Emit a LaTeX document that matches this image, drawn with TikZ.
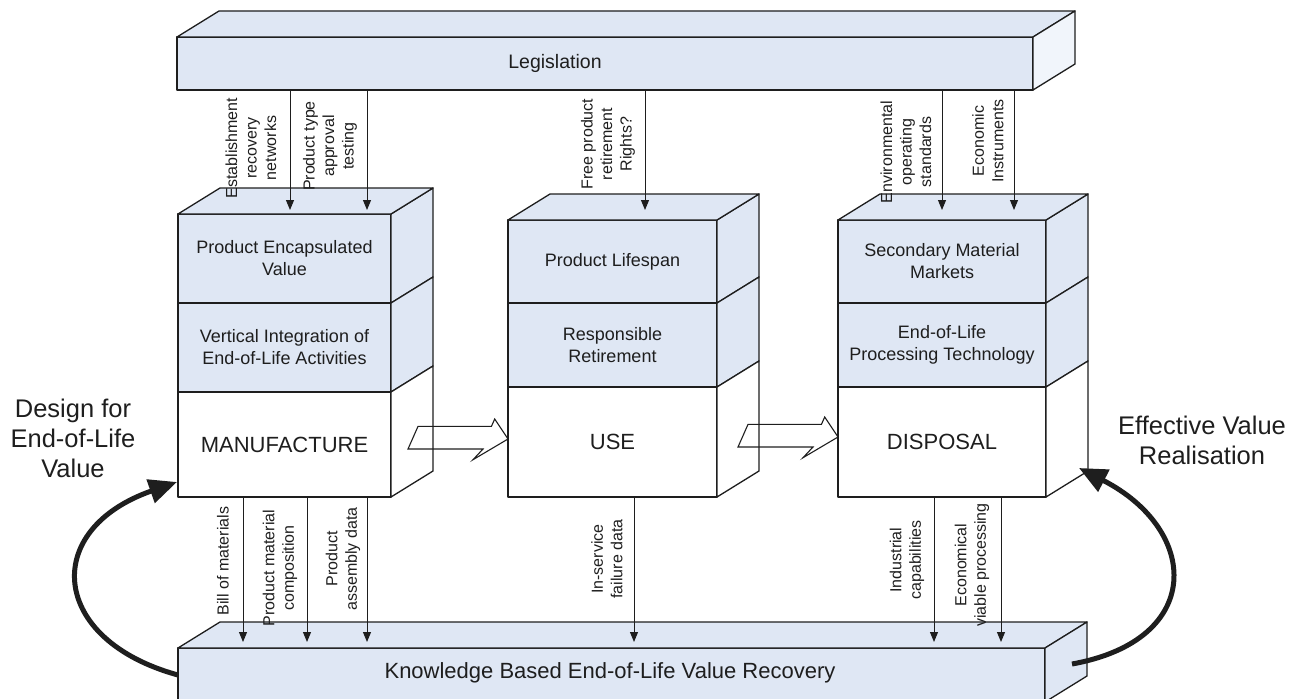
\documentclass[tikz,border=0pt]{standalone}
\usepackage{fontspec}
\setmainfont{Liberation Sans}
\usetikzlibrary{arrows.meta,calc}

\definecolor{panel}{HTML}{DFE7F4}
\definecolor{barend}{HTML}{F1F5FB}
\definecolor{ink}{HTML}{1E1E1E}

\tikzset{
  every node/.style={inner sep=0pt, outer sep=0pt, text=ink},
  edgeline/.style={draw=ink, line width=1.3pt, line join=round},
  boxface/.style={edgeline, anchor=north west, align=center},
  blueface/.style={boxface, fill=panel},
  whiteface/.style={boxface, fill=white},
  sublabel/.style={font=\fontsize{18}{22}\selectfont},
  mainlabel/.style={font=\fontsize{22}{26}\selectfont},
  barlabel/.style={font=\fontsize{19.5}{23}\selectfont},
  note/.style={rotate=90, align=center, font=\fontsize{16}{19.5}\selectfont},
  flow/.style={draw=ink, line width=1pt, -{Triangle[length=10pt,width=8pt]}},
  pushshape/.style={draw=ink, line width=1.1pt, line join=miter},
  bigloop/.style={draw=ink, line width=5pt, -{Triangle[length=28pt,width=24pt]}},
  sidecaption/.style={align=center, font=\fontsize{25.5}{30}\selectfont},
}

% receding faces of a block whose front face is the node #1
\newcommand{\sideface}[2]{%
  \filldraw[edgeline, fill=#2] (#1.north east) -- ++(42,-26)
    -- ($(#1.south east)+(42,-26)$) -- (#1.south east) -- cycle;}
\newcommand{\topface}[2]{%
  \filldraw[edgeline, fill=#2] (#1.north west) -- ++(42,-26)
    -- ($(#1.north east)+(42,-26)$) -- (#1.north east) -- cycle;}
% hollow flow arrow whose tip sits at #1
\newcommand{\pusharrow}[1]{%
  \draw[pushshape] ($(#1)+(-90,-12.6)$) -- ($(#1)+(-16.6,-12.6)$)
    -- ($(#1)+(-13.3,-20)$) -- (#1) -- ($(#1)+(-35,20.7)$)
    -- ($(#1)+(-25,10)$) -- ($(#1)+(-100,10)$) -- cycle;}

\begin{document}
\begin{tikzpicture}[x=1pt,y=-1pt]
\useasboundingbox (0,0) rectangle (1297,698);

% ---- legislation bar ----
\node[blueface, minimum width=856pt, minimum height=53pt] (leg) at (177,37) {};
\topface{leg}{panel}
\sideface{leg}{barend}
\node[barlabel] (legtext) at (555,63) {Legislation};

% ---- knowledge bar ----
\node[blueface, minimum width=867pt, minimum height=54pt] (kb) at (178,648) {};
\topface{kb}{panel}
\sideface{kb}{panel}
\node[mainlabel] (kbtext) at (610,673) {Knowledge Based End-of-Life Value Recovery};

% ---- manufacture tower ----
\node[blueface, sublabel, minimum width=213pt, minimum height=89pt] (m1) at (178,214) {Product Encapsulated\\Value};
\node[blueface, sublabel, minimum width=213pt, minimum height=89pt] (m2) at (178,303) {Vertical Integration of\\End-of-Life Activities};
\node[whiteface, mainlabel, minimum width=213pt, minimum height=105pt] (m3) at (178,392) {MANUFACTURE};
\sideface{m1}{panel}\sideface{m2}{panel}\sideface{m3}{white}
\topface{m1}{panel}

% ---- use tower ----
\node[blueface, sublabel, minimum width=209pt, minimum height=83pt] (u1) at (508,220) {Product Lifespan};
\node[blueface, sublabel, minimum width=209pt, minimum height=84pt] (u2) at (508,303) {Responsible\\Retirement};
\node[whiteface, mainlabel, minimum width=209pt, minimum height=110pt] (u3) at (508,387) {USE};
\sideface{u1}{panel}\sideface{u2}{panel}\sideface{u3}{white}
\topface{u1}{panel}

% ---- disposal tower ----
\node[blueface, sublabel, minimum width=208pt, minimum height=83pt] (d1) at (838,220) {Secondary Material\\Markets};
\node[blueface, sublabel, minimum width=208pt, minimum height=84pt] (d2) at (838,303) {End-of-Life\\Processing Technology};
\node[whiteface, mainlabel, minimum width=208pt, minimum height=110pt] (d3) at (838,387) {DISPOSAL};
\sideface{d1}{panel}\sideface{d2}{panel}\sideface{d3}{white}
\topface{d1}{panel}

% ---- stage-to-stage flow ----
\coordinate (h1) at ($(u3.west)+(0,-3)$);
\coordinate (h2) at ($(d3.west)+(0,-5)$);
\pusharrow{h1}
\pusharrow{h2}

% ---- legislation inputs ----
\coordinate (t1) at (290,210);
\coordinate (t2) at (367,210);
\coordinate (t3) at (645,210);
\coordinate (t4) at (942,210);
\coordinate (t5) at (1014,210);
\foreach \p in {t1,t2,t3,t4,t5} \draw[flow] (\p |- leg.south) -- (\p);

% ---- knowledge outputs ----
\coordinate (b1) at (243,642);
\coordinate (b2) at (307,642);
\coordinate (b3) at (367,642);
\coordinate (b4) at (634,642);
\coordinate (b5) at (934,642);
\coordinate (b6) at (1001,642);
\foreach \p in {b1,b2,b3} \draw[flow] (\p |- m3.south) -- (\p);
\draw[flow] (b4 |- u3.south) -- (b4);
\foreach \p in {b5,b6} \draw[flow] (\p |- d3.south) -- (\p);

% ---- arrow labels ----
\node[note] (est) at (251,148) {Establishment\\recovery\\networks};
\node[note] (pta) at (330,146) {Product type\\approval\\testing};
\node[note] (fpr) at (608,144) {Free product\\retirement\\Rights?};
\node[note] (eos) at (906,152) {Environmental\\operating\\standards};
\node[note] (eci) at (988,141) {Economic\\Instruments};
\node[note] (bom) at (223,561) {Bill of materials};
\node[note] (pmc) at (280,568) {Product material\\composition};
\node[note] (pad) at (343,559) {Product\\assembly data};
\node[note] (isf) at (607,559) {In-service\\failure data};
\node[note] (ica) at (907,560) {Industrial\\capabilities};
\node[note] (evp) at (972,565) {Economical\\viable processing};

% ---- feedback loops ----
\coordinate (lend) at ($(m3.south west)+(-1,-15)$);
\draw[bigloop] (kb.west) .. controls (50,640) and (40,530) .. (lend);
\coordinate (rstart) at ($(kb.east)+(27,-11)$);
\coordinate (rend) at ($(d3.south east)+(33,-29)$);
\draw[bigloop] (rstart) .. controls (1205,640) and (1200,530) .. (rend);

\node[sidecaption] (dfe) at (73,438) {Design for\\End-of-Life\\Value};
\node[sidecaption] (evr) at (1202,440) {Effective Value\\Realisation};
\end{tikzpicture}
\end{document}
